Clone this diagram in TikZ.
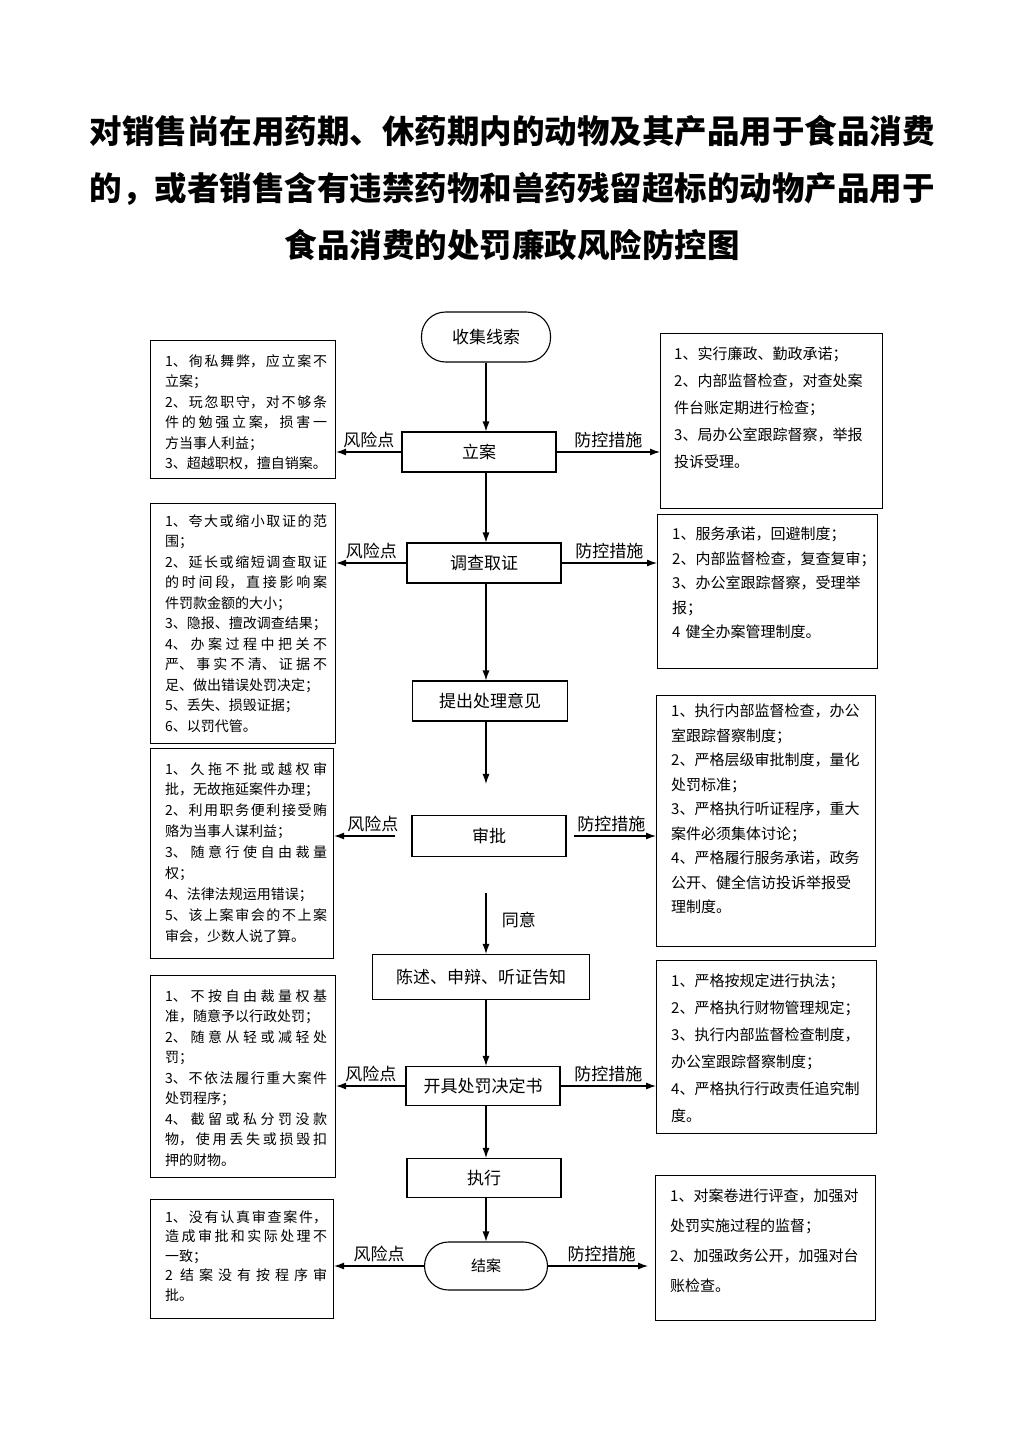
\documentclass[tikz,border=0pt]{standalone}
\usepackage{fontspec}
\setmainfont{Noto Sans CJK SC}
\XeTeXlinebreaklocale "zh"
\XeTeXlinebreakskip=0pt plus 2pt
\usepackage{tikz}
\usetikzlibrary{arrows.meta,positioning,calc}
\tikzset{edge/.style = {
    line width=1.1pt,
    -{Latex[length=10pt,width=7pt]},
  }
}

\begin{document}
\begin{tikzpicture}[x=1pt, y=-1pt]
  % styles
  \tikzstyle{stage} = [rectangle, draw, line width=1.1pt, minimum width=154pt, minimum height=40pt, inner sep=0pt, font=\fontsize{17}{20}\selectfont]
  \tikzstyle{terminal} = [stage, rounded corners=24pt, minimum width=129pt, minimum height=50pt]
  \tikzstyle{riskbox} = [rectangle, draw, line width=1.1pt, anchor=north west, inner sep=0pt]
  \tikzstyle{risktext} = [text width=162pt, align=justify, inner sep=0pt, font=\fontsize{14}{20.5}\selectfont]
  \tikzstyle{guardtext} = [text width=210pt, align=left, inner sep=0pt]
  \tikzstyle{sidelabel} = [above, midway, font=\fontsize{17}{20}\selectfont]

  \useasboundingbox (0,0) rectangle (1024,1448);
  \fill[white] (0,0) rectangle (1024,1448);

  % title
  \node[align=center, font=\bfseries\fontsize{32.5}{57.5}\selectfont] (title) at (512,188)
    {对销售尚在用药期、休药期内的动物及其产品用于食品消费\\
     的，或者销售含有违禁药物和兽药残留超标的动物产品用于\\
     食品消费的处罚廉政风险防控图};

  % flow
  \node[terminal] (collect) at (486,337) {收集线索};
  \node[stage] (lian)    at (479,452) {立案};
  \node[stage] (survey)  at (484,563) {调查取证};
  \node[stage, minimum width=155pt] (propose) at (490,701) {提出处理意见};
  \node[stage, minimum height=41pt] (approve) at (489,836) {审批};
  \node[stage, minimum width=217pt, minimum height=45pt] (notify) at (481,977) {陈述、申辩、听证告知};
  \node[stage, minimum height=39pt] (decide)  at (483,1086) {开具处罚决定书};
  \node[stage, minimum height=39pt] (execute) at (484,1178) {执行};
  \node[terminal, minimum width=123pt, minimum height=48pt, font=\fontsize{15}{18}\selectfont] (close) at (486,1266) {结案};

  % risk points
  \node[riskbox, minimum width=185pt, minimum height=138pt] (risk1) at (150,340) {};
  \node[risktext, below right=14pt and 15pt of risk1.north west] (risk1text)
    {1、徇私舞弊，应立案不\linebreak 立案；\\2、玩忽职守，对不够条\linebreak 件的勉强立案，损害一\linebreak 方当事人利益；\\3、超越职权，擅自销案。};
  \node[riskbox, minimum width=185pt, minimum height=240pt] (risk2) at (150,503) {};
  \node[risktext, below right=11pt and 15pt of risk2.north west] (risk2text)
    {1、夸大或缩小取证的范\linebreak 围；\\2、延长或缩短调查取证\linebreak 的时间段，直接影响案\linebreak 件罚款金额的大小；\\3、隐报、擅改调查结果；\\4、办案过程中把关不\linebreak 严、事实不清、证据不\linebreak 足、做出错误处罚决定；\\5、丢失、损毁证据；\\6、以罚代管。};
  \node[riskbox, minimum width=183pt, minimum height=210pt] (risk3) at (150,748) {};
  \node[risktext, below right=14pt and 15pt of risk3.north west, font=\fontsize{14}{20.9}\selectfont] (risk3text)
    {1、久拖不批或越权审\linebreak 批，无故拖延案件办理；\\2、利用职务便利接受贿\linebreak 赂为当事人谋利益；\\3、随意行使自由裁量\linebreak 权；\\4、法律法规运用错误；\\5、该上案审会的不上案\linebreak 审会，少数人说了算。};
  \node[riskbox, minimum width=185pt, minimum height=202pt] (risk4) at (150,975) {};
  \node[risktext, below right=14pt and 15pt of risk4.north west] (risk4text)
    {1、不按自由裁量权基\linebreak 准，随意予以行政处罚；\\2、随意从轻或减轻处\linebreak 罚；\\3、不依法履行重大案件\linebreak 处罚程序；\\4、截留或私分罚没款\linebreak 物，使用丢失或损毁扣\linebreak 押的财物。};
  \node[riskbox, minimum width=183pt, minimum height=119pt] (risk5) at (150,1199) {};
  \node[risktext, below right=11pt and 15pt of risk5.north west, font=\fontsize{14}{19.5}\selectfont] (risk5text)
    {1、没有认真审查案件，\linebreak 造成审批和实际处理不\linebreak 一致；\\2 结案没有按程序审\linebreak 批。};

  % control measures
  \node[riskbox, minimum width=222pt, minimum height=175pt] (guard1) at (660,333) {};
  \node[guardtext, below right=14pt and 14pt of guard1.north west, font=\fontsize{15}{26.8}\selectfont] (guard1text)
    {1、实行廉政、勤政承诺；\\2、内部监督检查，对查处案\\件台账定期进行检查；\\3、局办公室跟踪督察，举报\\投诉受理。};
  \node[riskbox, minimum width=220pt, minimum height=154pt] (guard2) at (657,514) {};
  \node[guardtext, below right=13pt and 15pt of guard2.north west, font=\fontsize{15}{24.5}\selectfont] (guard2text)
    {1、服务承诺，回避制度；\\2、内部监督检查，复查复审；\\3、办公室跟踪督察，受理举\\报；\\4 健全办案管理制度。};
  \node[riskbox, minimum width=219pt, minimum height=251pt] (guard3) at (656,695) {};
  \node[guardtext, below right=9pt and 15pt of guard3.north west, font=\fontsize{15}{24.5}\selectfont] (guard3text)
    {1、执行内部监督检查，办公\\室跟踪督察制度；\\2、严格层级审批制度，量化\\处罚标准；\\3、严格执行听证程序，重大\\案件必须集体讨论；\\4、严格履行服务承诺，政务\\公开、健全信访投诉举报受\\理制度。};
  \node[riskbox, minimum width=220pt, minimum height=173pt] (guard4) at (656,960) {};
  \node[guardtext, below right=14pt and 15pt of guard4.north west, font=\fontsize{15}{27}\selectfont] (guard4text)
    {1、严格按规定进行执法；\\2、严格执行财物管理规定；\\3、执行内部监督检查制度，\\办公室跟踪督察制度；\\4、严格执行行政责任追究制\\度。};
  \node[riskbox, minimum width=220pt, minimum height=145pt] (guard5) at (655,1175) {};
  \node[guardtext, below right=14pt and 15pt of guard5.north west, font=\fontsize{15}{30}\selectfont] (guard5text)
    {1、对案卷进行评查，加强对\\处罚实施过程的监督；\\2、加强政务公开，加强对台\\账检查。};

  % main line
  \draw[edge] (collect) -- (collect |- lian.north);
  \draw[edge] (lian.south -| collect) -- (survey.north -| collect);
  \draw[edge] (survey.south -| collect) -- (propose.north -| collect);
  \draw[edge, shorten >=31pt] (propose.south -| collect) -- (approve.north -| collect);
  \draw[edge, shorten <=36pt] (approve.south -| collect) -- (notify.north -| collect)
    node[pos=0.65, right=12pt, font=\fontsize{17}{20}\selectfont] {同意};
  \draw[edge] (notify.south -| collect) -- (decide.north -| collect);
  \draw[edge] (decide.south -| collect) -- (execute.north -| collect);
  \draw[edge] (execute.south -| collect) -- (close.north -| collect);

  % side arrows
  \draw[edge] (lian.west) -- (lian.west -| risk1.east) node[sidelabel] {风险点};
  \draw[edge] (lian.east) -- (lian.east -| guard1.west) node[sidelabel] {防控措施};
  \draw[edge] (survey.west) -- (survey.west -| risk2.east) node[sidelabel] {风险点};
  \draw[edge] (survey.east) -- (survey.east -| guard2.west) node[sidelabel] {防控措施};
  \draw[edge, shorten <=16pt] (approve.west) -- (approve.west -| risk3.east) node[sidelabel] {风险点};
  \draw[edge, shorten <=7pt] (approve.east) -- (approve.east -| guard3.west) node[sidelabel] {防控措施};
  \draw[edge] (decide.west) -- (decide.west -| risk4.east) node[sidelabel] {风险点};
  \draw[edge] (decide.east) -- (decide.east -| guard4.west) node[sidelabel] {防控措施};
  \draw[edge] (close.west) -- (close.west -| risk5.east) node[sidelabel] {风险点};
  \draw[edge, shorten >=7pt] (close.east) -- (close.east -| guard5.west) node[sidelabel] {防控措施};
\end{tikzpicture}
\end{document}
